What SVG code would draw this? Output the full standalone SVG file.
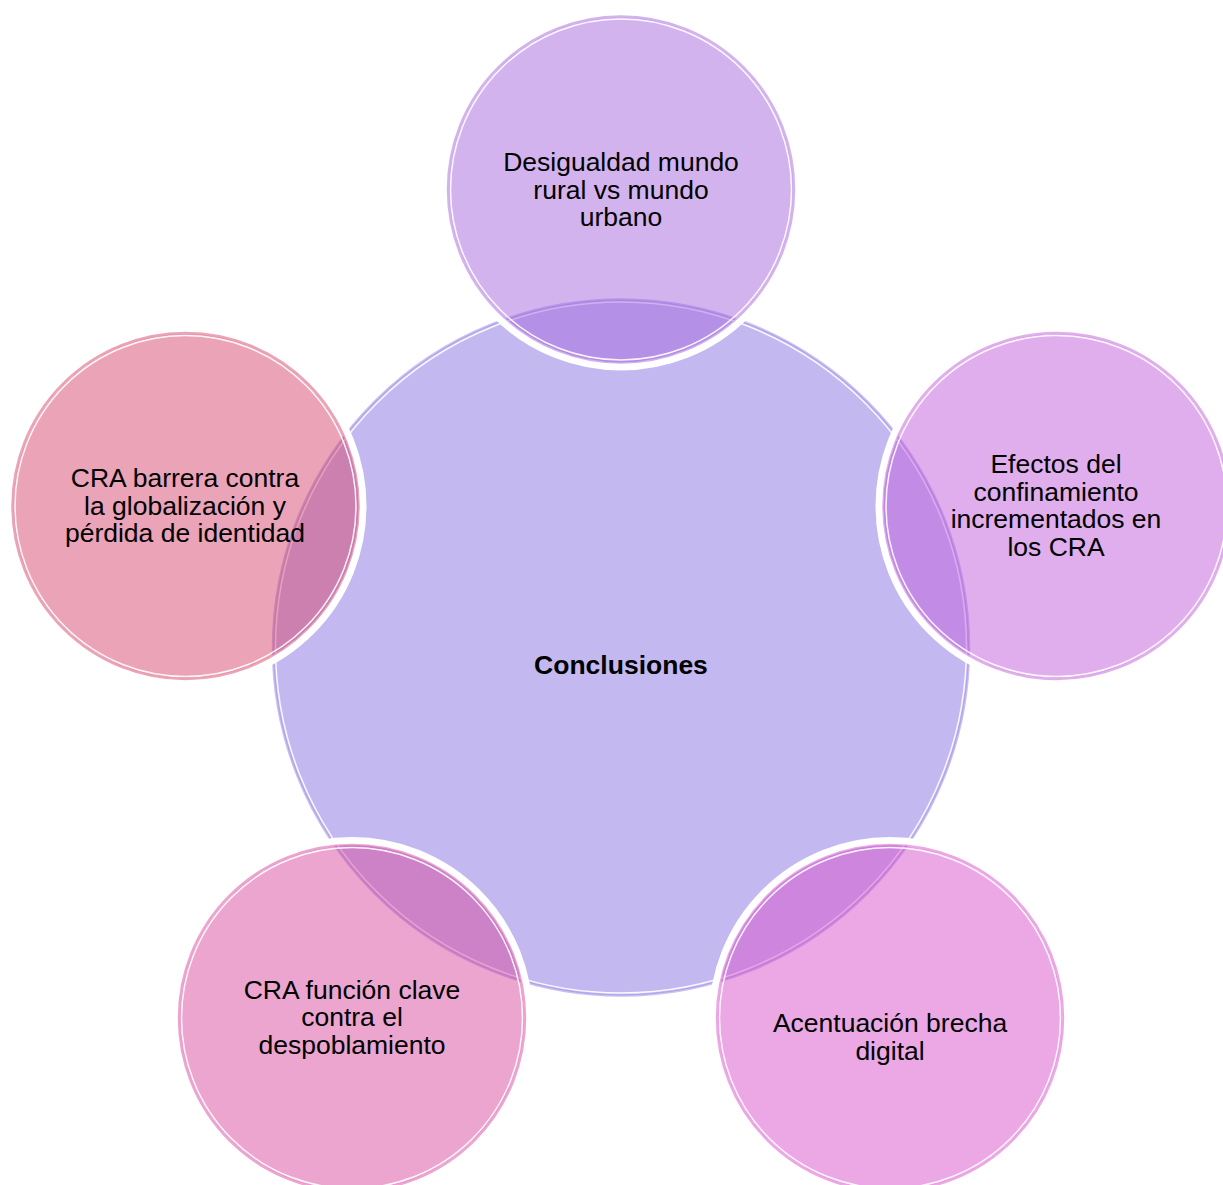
<svg xmlns="http://www.w3.org/2000/svg" width="1223" height="1185" viewBox="0 0 1223 1185">
<style>
.t{font-family:"Liberation Sans",Arial,sans-serif;font-size:26.5px;fill:#000;text-anchor:middle}
.b{font-weight:bold}
.halo{fill:none;stroke:#fff;stroke-width:8}
.inner{fill:none;stroke:#fff;stroke-width:1.5;stroke-opacity:0.9}
.fill{fill-opacity:0.5}
.line{fill:none;stroke-width:2.5;stroke-opacity:0.5}
</style>
<rect width="1223" height="1185" fill="#fff"/>
<g id="connectors"></g>
<g id="center">
<circle cx="621" cy="647.5" r="348" fill="#C3B8F0"/>
<circle cx="621" cy="647.5" r="345.5" fill="none" stroke="#fff" stroke-width="1.5" stroke-opacity="0.9"/>
<circle cx="621" cy="647.5" r="348" fill="none" stroke="#A796E8" stroke-width="2.5" stroke-opacity="0.6"/>
<text class="t b" x="621" y="674">Conclusiones</text>
</g>
<g id="n1">
<circle class="halo" cx="621" cy="189.5" r="177"/>
<circle class="fill" cx="621" cy="189.5" r="172" fill="#A767DD"/>
<circle class="inner" cx="621" cy="189.5" r="170.5"/>
<circle class="line" cx="621" cy="189.5" r="173" stroke="#A767DD"/>
<text class="t" x="621" y="171">Desigualdad mundo</text>
<text class="t" x="621" y="198.5">rural vs mundo</text>
<text class="t" x="621" y="226">urbano</text>
</g>
<g id="n2">
<circle class="halo" cx="1056.5" cy="506" r="177"/>
<circle class="fill" cx="1056.5" cy="506" r="172" fill="#C15DD9"/>
<circle class="inner" cx="1056.5" cy="506" r="170.5"/>
<circle class="line" cx="1056.5" cy="506" r="173" stroke="#C15DD9"/>
<text class="t" x="1056" y="473">Efectos del</text>
<text class="t" x="1056" y="500.5">confinamiento</text>
<text class="t" x="1056" y="528">incrementados en</text>
<text class="t" x="1056" y="555.5">los CRA</text>
</g>
<g id="n3">
<circle class="halo" cx="890" cy="1018" r="177"/>
<circle class="fill" cx="890" cy="1018" r="172" fill="#D751CB"/>
<circle class="inner" cx="890" cy="1018" r="170.5"/>
<circle class="line" cx="890" cy="1018" r="173" stroke="#D751CB"/>
<text class="t" x="890" y="1032">Acentuación brecha</text>
<text class="t" x="890" y="1059.5">digital</text>
</g>
<g id="n4">
<circle class="halo" cx="352" cy="1018" r="177"/>
<circle class="fill" cx="352" cy="1018" r="172" fill="#D74B9F"/>
<circle class="inner" cx="352" cy="1018" r="170.5"/>
<circle class="line" cx="352" cy="1018" r="173" stroke="#D74B9F"/>
<text class="t" x="352" y="998.5">CRA función clave</text>
<text class="t" x="352" y="1026">contra el</text>
<text class="t" x="352" y="1053.5">despoblamiento</text>
</g>
<g id="n5">
<circle class="halo" cx="185.5" cy="506" r="177"/>
<circle class="fill" cx="185.5" cy="506" r="172" fill="#D5476F"/>
<circle class="inner" cx="185.5" cy="506" r="170.5"/>
<circle class="line" cx="185.5" cy="506" r="173" stroke="#D5476F"/>
<text class="t" x="185" y="487">CRA barrera contra</text>
<text class="t" x="185" y="514.5">la globalización y</text>
<text class="t" x="185" y="542">pérdida de identidad</text>
</g>
</svg>
